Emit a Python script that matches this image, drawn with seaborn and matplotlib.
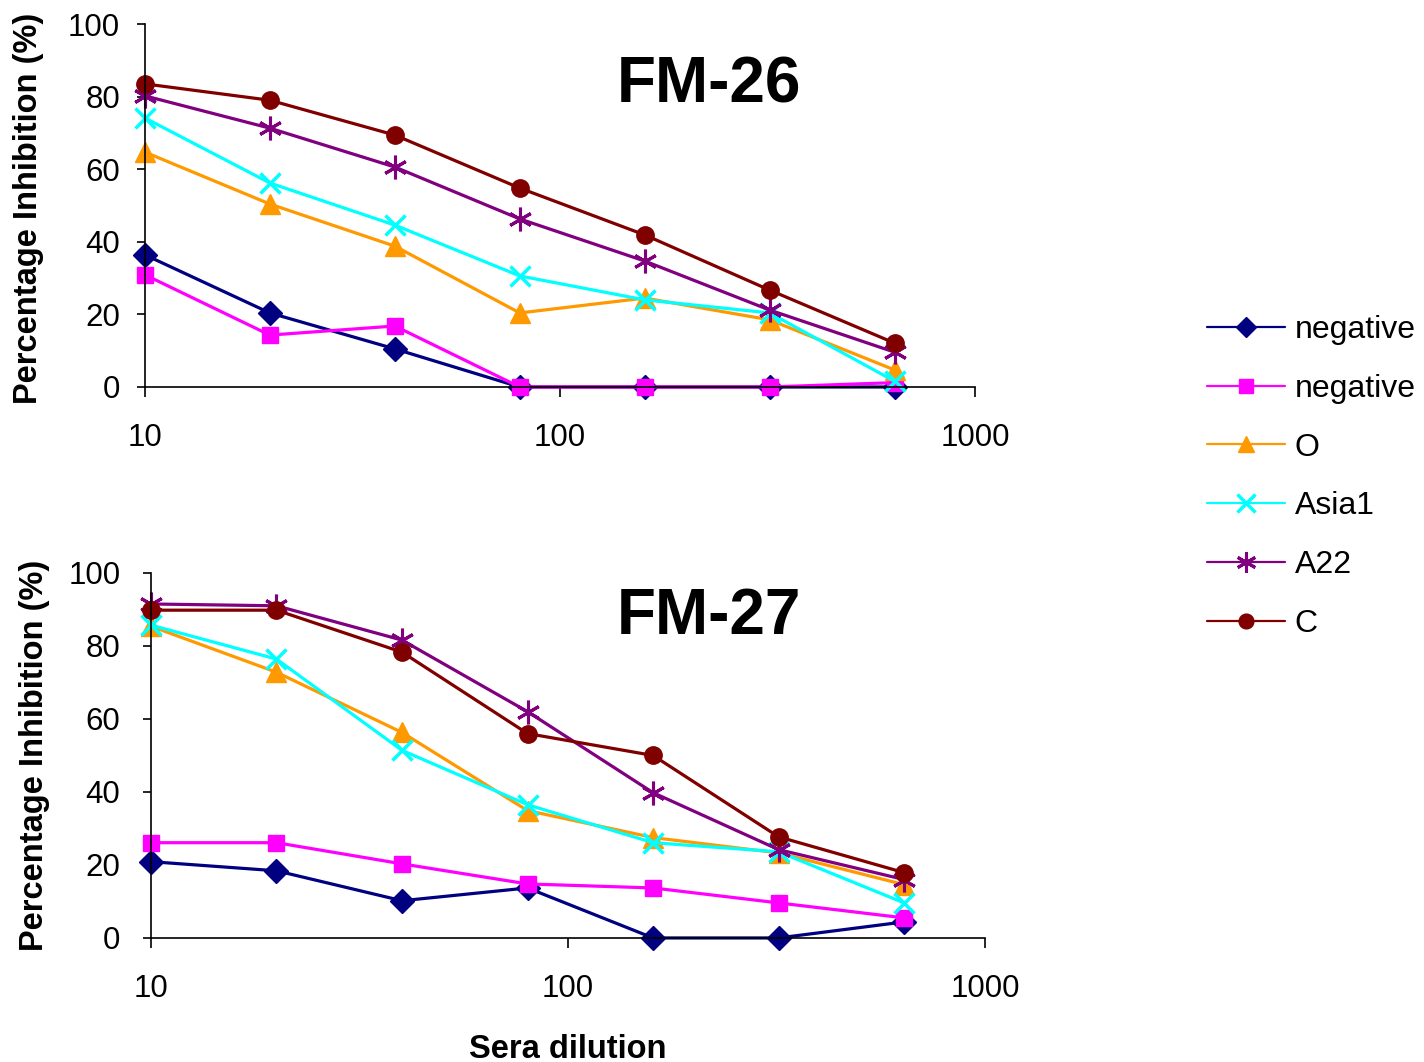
import matplotlib
matplotlib.use("Agg")
import matplotlib.pyplot as plt
import seaborn as sns
import numpy as np
import pandas as pd
from matplotlib.ticker import FixedLocator, NullLocator, FixedFormatter

sns.set_theme(style="white")
plt.rcParams['font.family'] = ['Liberation Sans', 'DejaVu Sans']
plt.rcParams['text.color'] = 'black'
plt.rcParams['axes.labelcolor'] = 'black'
plt.rcParams['xtick.color'] = 'black'
plt.rcParams['ytick.color'] = 'black'

dilution = [10, 20, 40, 80, 160, 320, 640]
series_labels = ["negative", "negative", "O", "Asia1", "A22", "C"]

fm26_neg1 = [36.4, 20.4, 10.5, 0.0, 0.0, 0.0, 0.0]
fm26_neg2 = [30.9, 14.3, 16.8, 0.0, 0.0, 0.0, 1.2]
fm26_O = [64.7, 50.4, 38.8, 20.4, 24.5, 18.5, 4.7]
fm26_Asia1 = [74.1, 56.2, 44.6, 30.6, 24.0, 20.4, 1.6]
fm26_A22 = [80.2, 71.3, 60.6, 46.3, 34.7, 21.2, 9.6]
fm26_C = [83.5, 79.0, 69.4, 54.8, 41.9, 26.7, 12.1]

fm27_neg1 = [20.9, 18.4, 10.2, 13.7, 0.0, 0.0, 4.4]
fm27_neg2 = [26.1, 26.1, 20.3, 14.8, 13.7, 9.6, 5.5]
fm27_O = [85.4, 72.8, 56.3, 34.9, 27.5, 23.3, 14.6]
fm27_Asia1 = [85.7, 76.4, 51.4, 36.5, 26.1, 23.6, 9.6]
fm27_A22 = [91.5, 91.0, 81.6, 62.0, 39.8, 24.2, 16.0]
fm27_C = [89.8, 89.8, 78.3, 56.0, 50.0, 27.7, 17.9]

y_ticks = [0, 20, 40, 60, 80, 100]
x_ticks = [10, 100, 1000]
x_tick_labels = ["10", "100", "1000"]

colors = ["#000080", "#FF00FF", "#FF9900", "#00FFFF", "#800080", "#800000"]
markers = ["D", "s", "^", "x", (6, 2, 0), "o"]
msizes = [12, 12, 14, 15, 17, 12.5]
mews = [1, 1, 1, 2.5, 2.2, 1]

fig = plt.figure(figsize=(14.24, 10.62), dpi=100)
ax1 = fig.add_axes([0.1018, 0.6356, 0.5829, 0.3418])
ax2 = fig.add_axes([0.1060, 0.1168, 0.5857, 0.3437])

panels = [
    (ax1, [fm26_neg1, fm26_neg2, fm26_O, fm26_Asia1, fm26_A22, fm26_C], "FM-26", (0.68, 0.83)),
    (ax2, [fm27_neg1, fm27_neg2, fm27_O, fm27_Asia1, fm27_A22, fm27_C], "FM-27", (0.669, 0.878)),
]

for ax, data, title, tpos in panels:
    for i, vals in enumerate(data):
        df = pd.DataFrame({"dilution": dilution, "value": vals})
        sns.lineplot(data=df, x="dilution", y="value", ax=ax, color=colors[i],
                     marker=markers[i], markersize=msizes[i], markeredgewidth=mews[i],
                     markeredgecolor=colors[i], linewidth=2.3,
                     label=series_labels[i], clip_on=False, legend=False)
    ax.set_xscale("log")
    ax.set_xlim(10, 1000)
    ax.set_ylim(0, 100)
    ax.xaxis.set_major_locator(FixedLocator(x_ticks))
    ax.xaxis.set_major_formatter(FixedFormatter(x_tick_labels))
    ax.xaxis.set_minor_locator(NullLocator())
    ax.set_yticks(y_ticks)
    ax.set_xlabel("")
    ax.set_ylabel("")
    for s in ["top", "right"]:
        ax.spines[s].set_visible(False)
    for s in ["left", "bottom"]:
        ax.spines[s].set_color("black")
        ax.spines[s].set_linewidth(1.2)
    ax.tick_params(axis="x", direction="out", length=7, width=1.2, color="black",
                   labelcolor="black", labelsize=22.5, pad=19, bottom=True)
    ax.tick_params(axis="y", direction="out", length=6, width=1.2, color="black",
                   labelcolor="black", labelsize=22.5, pad=12, left=True)
    ax.text(tpos[0], tpos[1], title, transform=ax.transAxes, ha="center", va="center",
            fontsize=46, fontweight="bold", color="black")
    ax.grid(False)

ax2.tick_params(axis="y", pad=16)

fig.text(29 / 1424, 1 - 208 / 1062, "Percentage Inhibition (%)", rotation=90,
         ha="center", va="center", fontsize=23.5, fontweight="bold", color="black")
fig.text(35 / 1424, 1 - 755 / 1062, "Percentage Inhibition (%)", rotation=90,
         ha="center", va="center", fontsize=23.5, fontweight="bold", color="black")
fig.text(568 / 1424, 1 - 1049 / 1062, "Sera dilution", ha="center", va="center",
         fontsize=23.5, fontweight="bold", color="black")

handles, labels = ax1.get_legend_handles_labels()
leg = fig.legend(handles, labels, loc="upper left", bbox_to_anchor=(1207 / 1424, 1 - 315 / 1062),
                 frameon=False, fontsize=23, handlelength=2.45, handletextpad=0.3,
                 labelspacing=0.9, borderaxespad=0, borderpad=0)
for t in leg.get_texts():
    t.set_color("black")
for line in leg.get_lines():
    line.set_linewidth(1.6)
    line.set_markersize(line.get_markersize() * 0.85)

fig.savefig("out.png", dpi=100, facecolor="white")
